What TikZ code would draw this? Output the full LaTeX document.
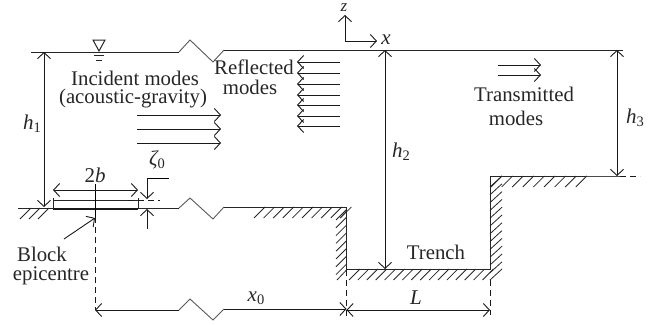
\documentclass[tikz,border=0pt]{standalone}
\usepackage{fontspec}
\setmainfont{Liberation Serif}
\usetikzlibrary{arrows.meta}
\tikzset{
  x=1pt,y=-1pt,
  ln/.style={line width=1pt,draw=black!85},
  zig/.style={line width=0.9pt,draw=black!65},
  dim/.style={line width=0.9pt,draw=black!90,{Straight Barb[length=6pt,width=13pt]}-{Straight Barb[length=6pt,width=13pt]}},
  dimr/.style={line width=0.9pt,draw=black!90,-{Straight Barb[length=6pt,width=13pt]}},
  wave/.style={line width=0.9pt,draw=black!90,-{Straight Barb[length=6pt,width=13pt]}},
  dsh/.style={line width=0.9pt,draw=black!90,dash pattern=on 6pt off 4pt},
  hat/.style={line width=0.8pt,draw=black!85},
  lab/.style={inner sep=0pt,font=\fontsize{20.8}{22}\selectfont,text=black!85},
  mlab/.style={inner sep=0pt,font=\fontsize{21}{22}\selectfont\itshape,text=black!85},
}
\newcommand{\sbs}[2]{#1\raisebox{-3pt}{\fontsize{14.5}{15}\selectfont\upshape #2}}
\begin{document}
\begin{tikzpicture}
\useasboundingbox (0,0) rectangle (666,324);
% surface
\draw[ln] (31,52) -- (179,52);
\draw[zig] (179,52) -- (190,40) -- (213,62) -- (224,50);
\draw[ln] (224,50) -- (623,50);
\draw[ln] (93,40) -- (105,40) -- (99,51) -- cycle;
\draw[ln] (94,55) -- (104,55);
\draw[ln] (96,60) -- (102,60);
% ground
\draw[ln] (18,208) -- (179,208);
\draw[zig] (179,208) -- (190,198) -- (213,219) -- (224,207);
\draw[ln] (224,207) -- (346.5,207) -- (346.5,269) -- (490,269) -- (490,176) -- (585,176);
\draw[line width=0.8pt,draw=black!70] (585,176) -- (620,176);
\draw[dsh] (620,176) -- (640,176);
% hatches
\foreach \i in {0,1,2} \draw[hat] (20+\i*9,219) -- (31+\i*9,208);
\foreach \i in {0,...,9} \draw[hat] (254+\i*9.6,218) -- (265+\i*9.6,207);
\draw[hat] (340,218) -- (346.5,211);
\foreach \i in {0,...,7} \draw[hat] (336,220+\i*7.8) -- (346.5,209.5+\i*7.8);
\foreach \i in {0,...,15} \draw[hat] (349+\i*8.9,280) -- (360+\i*8.9,269);
\draw[hat] (337,280) -- (346.5,270);
\foreach \i in {0,...,11} \draw[hat] (490,187+\i*7.8) -- (502,176+\i*7.8);
\draw[hat] (490,280) -- (502,269);
\foreach \i in {0,...,8} \draw[hat] (491+\i*10.6,187) -- (502+\i*10.6,176);
% block
\draw[ln] (53,200) -- (138,200);
\draw[line width=1.3pt,draw=black!90] (53,209) -- (138,209);
\draw[ln] (53,198) -- (53,209);
\draw[ln] (138,198) -- (138,209);
\draw[dsh] (128,200) -- (160,200);
% epicentre
\draw[line width=0.9pt] (95,184) -- (95,217);
\draw[dsh] (95,217) -- (95,310);
\coordinate (blockstart) at (64,239);
\coordinate (blockend) at (95,218);
\draw[dimr] (blockstart) -- (blockend);
% dimensions
\coordinate (h1t) at (44,52); \coordinate (h1b) at (44,207);
\draw[dim] (h1t) -- (h1b);
\coordinate (h2t) at (385,50); \coordinate (h2b) at (385,269);
\draw[dim] (h2t) -- (h2b);
\coordinate (h3t) at (617,50); \coordinate (h3b) at (617,176);
\draw[dim] (h3t) -- (h3b);
\coordinate (bl) at (53,190); \coordinate (br) at (138,190);
\draw[dim] (bl) -- (br);
\draw[line width=0.9pt] (169,178) -- (147,178);
\coordinate (zta) at (147,178); \coordinate (ztb) at (147,199);
\coordinate (zba) at (147,229); \coordinate (zbb) at (147,209);
\draw[dimr] (zta) -- (ztb);
\draw[dimr] (zba) -- (zbb);
% x0 and L
\draw[line width=0.9pt,draw=black!90,{Straight Barb[length=6pt,width=13pt]}-] (95,310) -- (179,310);
\draw[zig] (179,310) -- (190,299) -- (213,320) -- (224,309);
\draw[line width=0.9pt,draw=black!90,-{Straight Barb[length=6pt,width=13pt]}] (224,309) -- (346.5,309);
\draw[dim] (346.5,310) -- (490,310);
\draw[dsh] (346.5,270) -- (346.5,317);
\draw[dsh] (490,280) -- (490,315);
% axes
\coordinate (o) at (345,41); \coordinate (zend) at (345,15); \coordinate (xend) at (377,41);
\draw[dimr] (o) -- (zend);
\draw[dimr] (o) -- (xend);
% waves
\foreach \y in {115,129,143} \draw[wave] (137,\y) -- (221,\y);
\foreach \y in {62,73,84,95,105,116,126} \draw[wave] (340,\y) -- (297,\y);
\foreach \y in {65,75} \draw[wave] (498,\y) -- (541,\y);
% labels
\node[lab] (inc) at (135,78.5) {Incident modes};
\node[lab] (ac) at (133,99) {(acoustic-gravity)};
\node[lab] (ref) at (254,67) {Reflected};
\node[lab] (rm) at (250,87) {modes};
\node[lab] (tr) at (524,94) {Transmitted};
\node[lab] (tm) at (516,118) {modes};
\node[lab] (trench) at (436,252) {Trench};
\node[lab] (blk) at (42,254) {Block};
\node[lab] (epi) at (51,275.5) {epicentre};
\node[mlab] (lh1) at (32,124) {\sbs{h}{1}};
\node[mlab] (lh2) at (401,152) {\sbs{h}{2}};
\node[mlab] (lh3) at (635,118) {\sbs{h}{3}};
\node[mlab] (lb) at (95,175) {{\upshape 2}b};
\node[mlab] (lz) at (157,160) {\sbs{ζ}{0}};
\node[mlab] (lx0) at (256,298) {\sbs{x}{0}};
\node[mlab] (lL) at (416,298) {L};
\node[mlab,font=\fontsize{17}{18}\selectfont\itshape] (lz2) at (344,7.5) {z};
\node[mlab] (lx) at (386,40) {x};
\end{tikzpicture}
\end{document}
